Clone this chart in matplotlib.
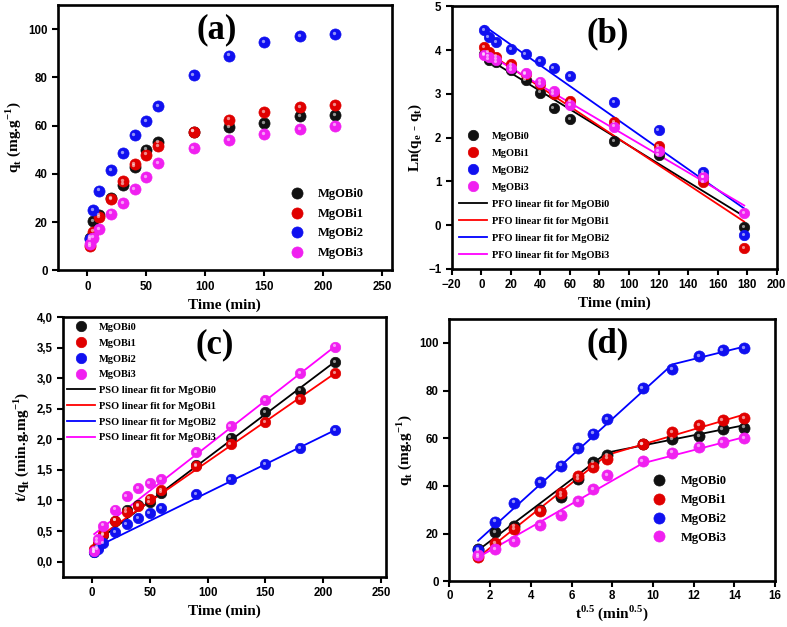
import matplotlib
matplotlib.use('Agg')
from matplotlib import pyplot as plt
from matplotlib.ticker import FuncFormatter, MultipleLocator
from matplotlib.transforms import offset_copy

names = ['MgOBi0', 'MgOBi1', 'MgOBi2', 'MgOBi3']
colors = ['#111111', '#e00000', '#1010f0', '#f020f0']
line_colors = ['#000000', '#ff0000', '#0000ff', '#ff00ff']

# (a) q_t vs time
t = [2, 5, 10, 20, 30, 40, 50, 60, 90, 120, 150, 180, 210]
qt = [
    [13.5, 20.5, 23, 30, 35.5, 43, 50, 53, 57.5, 59.5, 61, 64, 64.5],
    [10, 16, 22, 29.5, 37, 44, 48, 51.5, 57.5, 62.5, 65.5, 67.5, 68.5],
    [13, 25, 33, 41.5, 48.5, 56, 62, 68, 81, 89, 94.5, 97, 98],
    [11, 13.5, 17, 23.5, 28, 33.5, 38.5, 44.5, 50.5, 54, 56.5, 58.5, 60],
]

# (b) PFO
t_pfo = [2, 5, 10, 20, 30, 40, 49, 60, 90, 120, 150, 178]
ln_qe_qt = [
    [3.9, 3.78, 3.72, 3.55, 3.32, 3.03, 2.68, 2.42, 1.92, 1.6, 1.1, -0.05],
    [4.07, 3.95, 3.85, 3.68, 3.45, 3.22, 3.0, 2.83, 2.35, 1.8, 0.98, -0.53],
    [4.45, 4.3, 4.18, 4.03, 3.9, 3.75, 3.58, 3.4, 2.82, 2.18, 1.22, -0.22],
    [3.88, 3.85, 3.78, 3.6, 3.47, 3.28, 3.07, 2.75, 2.25, 1.7, 1.1, 0.28],
]
pfo_fit_x = [2, 178]
pfo_fit_y = [[3.85, 0.2], [4.0, 0.08], [4.55, 0.38], [3.95, 0.45]]

# (c) PSO
t_over_qt = [
    [0.15, 0.24, 0.43, 0.67, 0.85, 0.93, 0.98, 1.13, 1.58, 2.03, 2.45, 2.8, 3.27],
    [0.2, 0.31, 0.45, 0.67, 0.81, 0.91, 1.03, 1.17, 1.56, 1.92, 2.29, 2.66, 3.08],
    [0.15, 0.2, 0.3, 0.48, 0.62, 0.71, 0.8, 0.88, 1.11, 1.35, 1.6, 1.86, 2.15],
    [0.18, 0.37, 0.59, 0.85, 1.07, 1.2, 1.28, 1.35, 1.79, 2.22, 2.65, 3.08, 3.52],
]
pso_fit_x = [2, 210]
pso_fit_y = [[0.3, 3.27], [0.35, 3.08], [0.22, 2.15], [0.45, 3.52]]

# (d) intra-particle diffusion
sqrt_t = [1.41, 2.24, 3.16, 4.47, 5.48, 6.32, 7.07, 7.75, 9.49, 10.95, 12.25, 13.42, 14.49]
ipd_fit_x = [[1.41, 7.75, 14.49], [1.41, 7.75, 14.49], [1.41, 10.95, 14.49], [1.41, 9.49, 14.49]]
ipd_fit_y = [[13, 54, 65.5], [10, 53, 70], [17, 91, 98.5], [10, 49.5, 60.5]]

plt.rcParams['font.family'] = 'Liberation Serif'
plt.rcParams['font.weight'] = 'bold'
plt.rcParams['axes.linewidth'] = 1.9

fig = plt.figure(figsize=(7.87, 6.27), dpi=100)
ax_a = fig.add_axes([0.0737, 0.569, 0.424, 0.423])
ax_b = fig.add_axes([0.574, 0.571, 0.413, 0.419])
ax_c = fig.add_axes([0.080, 0.080, 0.410, 0.414])
ax_d = fig.add_axes([0.571, 0.073, 0.414, 0.418])

tick_font = {'family': 'Liberation Sans', 'weight': 'bold', 'size': 8.3}


def balls(ax, x, y, color, label, ms=8):
    h, = ax.plot(x, y, 'o', ms=ms, color=color, mec=color, mew=0.5,
                 label=label, zorder=3)
    hl = offset_copy(ax.transData, fig=fig, x=-1.2, y=1.2, units='dots')
    ax.plot(x, y, 'o', ms=ms * 0.3, color='white', alpha=0.55, mew=0,
            transform=hl, zorder=4)
    return h


def style(ax):
    ax.tick_params(direction='out', width=1.5, length=4, top=False, right=False)
    for lab in ax.get_xticklabels() + ax.get_yticklabels():
        lab.set_fontproperties(tick_font)


def panel_label(ax, s, x, y):
    ax.text(x, y, s, transform=ax.transAxes, fontsize=25, fontweight='bold',
            ha='center', va='center')


# (a)
hs = [balls(ax_a, t, qt[i], colors[i], names[i]) for i in range(4)]
ax_a.set_xlim(-25, 258)
ax_a.set_ylim(0, 110)
ax_a.xaxis.set_major_locator(MultipleLocator(50))
ax_a.yaxis.set_major_locator(MultipleLocator(20))
style(ax_a)
ax_a.set_xlabel('Time (min)', fontsize=11, fontweight='bold', labelpad=4)
ax_a.set_ylabel('q$_\\mathregular{t}$ (mg.g$^\\mathregular{-1}$)', fontsize=11,
                fontweight='bold', labelpad=4)
ax_a.legend(handles=hs, loc='lower right', bbox_to_anchor=(0.95, 0.0),
            frameon=False, numpoints=1, handletextpad=0.7,
            labelspacing=0.6, prop={'weight': 'bold', 'size': 9})
panel_label(ax_a, '(a)', 0.475, 0.905)

# (b)
hs = [balls(ax_b, t_pfo, ln_qe_qt[i], colors[i], names[i], ms=7.5) for i in range(4)]
for i in range(4):
    l, = ax_b.plot(pfo_fit_x, pfo_fit_y[i], color=line_colors[i], lw=1.3,
                   label='PFO linear fit for ' + names[i], zorder=2)
    hs.append(l)
ax_b.set_xlim(-20, 200)
ax_b.set_ylim(-1, 5)
ax_b.xaxis.set_major_locator(MultipleLocator(20))
ax_b.yaxis.set_major_locator(MultipleLocator(1))
style(ax_b)
ax_b.set_xlabel('Time (min)', fontsize=11, fontweight='bold', labelpad=4)
ax_b.set_ylabel('Ln(q$_\\mathregular{e}$ - q$_\\mathregular{t}$)', fontsize=11,
                fontweight='bold', labelpad=3)
ax_b.legend(handles=hs, loc='upper left', bbox_to_anchor=(-0.005, 0.56),
            frameon=False, numpoints=1, handlelength=2.6, handletextpad=0.5,
            labelspacing=0.74, prop={'weight': 'bold', 'size': 7.5})
panel_label(ax_b, '(b)', 0.48, 0.895)

# (c)
hs = [balls(ax_c, t, t_over_qt[i], colors[i], names[i], ms=7.5) for i in range(4)]
for i in range(4):
    l, = ax_c.plot(pso_fit_x, pso_fit_y[i], color=line_colors[i], lw=1.3,
                   label='PSO linear fit for ' + names[i], zorder=2)
    hs.append(l)
ax_c.set_xlim(-25, 254)
ax_c.set_ylim(-0.25, 4.0)
ax_c.xaxis.set_major_locator(MultipleLocator(50))
ax_c.yaxis.set_major_locator(MultipleLocator(0.5))
ax_c.yaxis.set_major_formatter(FuncFormatter(lambda v, p: f'{v:.1f}'.replace('.', ',')))
style(ax_c)
ax_c.set_xlabel('Time (min)', fontsize=11, fontweight='bold', labelpad=4)
ax_c.set_ylabel('t/q$_\\mathregular{t}$ (min.g.mg$^\\mathregular{-1}$)', fontsize=11,
                fontweight='bold', labelpad=4)
ax_c.legend(handles=hs, loc='upper left', bbox_to_anchor=(-0.015, 1.015),
            frameon=False, numpoints=1, handlelength=2.6, handletextpad=0.4,
            labelspacing=0.62, prop={'weight': 'bold', 'size': 7.5})
panel_label(ax_c, '(c)', 0.47, 0.895)

# (d)
hs = [balls(ax_d, sqrt_t, qt[i], colors[i], names[i]) for i in range(4)]
for i in range(4):
    ax_d.plot(ipd_fit_x[i], ipd_fit_y[i], color=line_colors[i], lw=1.3, zorder=2)
ax_d.set_xlim(0, 16)
ax_d.set_ylim(0, 110)
ax_d.xaxis.set_major_locator(MultipleLocator(2))
ax_d.yaxis.set_major_locator(MultipleLocator(20))
style(ax_d)
ax_d.tick_params(axis='x', pad=2)
ax_d.set_xlabel('t$^\\mathregular{0.5}$ (min$^\\mathregular{0.5}$)', fontsize=11,
                fontweight='bold', labelpad=1)
ax_d.set_ylabel('q$_\\mathregular{t}$ (mg.g$^\\mathregular{-1}$)', fontsize=11,
                fontweight='bold', labelpad=4)
ax_d.legend(handles=hs, loc='lower right', bbox_to_anchor=(0.885, 0.1),
            frameon=False, numpoints=1, handletextpad=0.7,
            labelspacing=0.55, prop={'weight': 'bold', 'size': 9})
panel_label(ax_d, '(d)', 0.485, 0.905)

fig.savefig('out.png', dpi=100)
